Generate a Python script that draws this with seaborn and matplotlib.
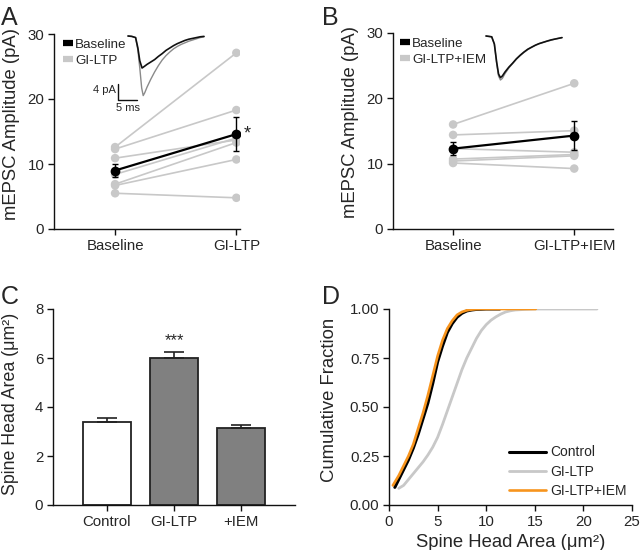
import numpy as np
import pandas as pd
import matplotlib
matplotlib.use("Agg")
import matplotlib.pyplot as plt
from matplotlib.lines import Line2D
import seaborn as sns

sns.set_style("ticks")
plt.rcParams['font.family'] = ['Liberation Sans', 'DejaVu Sans']

# ---------------- data ----------------
# Panel A: paired mEPSC amplitudes (pA)
a_conditions = ["Baseline", "GI-LTP"]
a_baseline = [12.6, 12.3, 10.9, 8.4, 6.9, 6.7, 5.5]
a_giltp = [27.1, 18.3, 13.7, 14.0, 13.3, 10.7, 4.8]
a_mean = [9.0, 14.6]
a_sem = [1.0, 2.6]

# Panel B
b_conditions = ["Baseline", "GI-LTP+IEM"]
b_baseline = [16.0, 14.4, 12.3, 10.7, 10.4, 10.1]
b_iem = [22.3, 15.05, 11.75, 11.4, 11.2, 9.25]
b_mean = [12.3, 14.3]
b_sem = [1.0, 2.2]

# Inset traces (time ms, current pA)
a_trace_t = [0, 1, 2, 2.6, 3.1, 3.7, 4.3, 5, 6, 7, 8, 9, 10, 11, 12, 13, 14, 15, 16, 17, 18, 19, 20]
a_trace_base = [0, -0.1, -0.4, -3, -6.2, -8.0, -7.6, -7.1, -6.5, -5.9, -5.1, -4.4, -3.6, -3.0, -2.4,
                -1.9, -1.5, -1.1, -0.8, -0.6, -0.4, -0.2, -0.1]
a_trace_t2 = [0, 1, 2, 2.6, 3.1, 3.6, 4.0, 4.4, 5, 6, 7, 8, 9, 10, 11, 12, 13, 14, 15, 16, 17, 18, 19, 20]
a_trace_ltp = [0, -0.1, -0.4, -3.5, -8, -13, -14.9, -14.2, -12.8, -10.8, -9.0, -7.4, -6.0, -4.9, -4.0,
               -3.2, -2.6, -2.1, -1.7, -1.3, -1.0, -0.7, -0.4, -0.2]
b_trace_t = [0, 1.5, 2.2, 2.8, 3.3, 3.8, 4.3, 5, 6, 7, 8, 9, 10, 11, 12, 13, 14, 15, 16, 17, 18, 19, 20]
b_trace_base = [0, -0.2, -2, -6.5, -9.5, -10.4, -10.0, -9.0, -7.8, -6.8, -5.7, -4.8, -4.0, -3.3, -2.8,
                -2.3, -1.9, -1.6, -1.3, -1.0, -0.8, -0.6, -0.4]
b_trace_iem = [0, -0.2, -2, -6.8, -10, -11.0, -10.6, -9.4, -8.0, -6.9, -5.8, -4.9, -4.1, -3.4, -2.8,
               -2.3, -1.9, -1.6, -1.3, -1.1, -0.8, -0.6, -0.4]

# Panel C: spine head area
c_groups = ["Control", "GI-LTP", "+IEM"]
c_means = [3.37, 5.98, 3.13]
c_sems = [0.18, 0.27, 0.15]

# Panel D: cumulative fractions
d_ctrl_x = [0.6, 1.0, 1.5, 2.0, 2.5, 3.0, 3.5, 4.0, 4.5, 5.0, 5.5, 6.0, 6.5, 7.0, 7.5, 8.0, 8.5, 9.0,
            9.5, 10.0, 11.4]
d_ctrl_y = [0.09, 0.13, 0.18, 0.23, 0.29, 0.36, 0.44, 0.52, 0.62, 0.73, 0.81, 0.88, 0.925, 0.958, 0.978,
            0.99, 0.995, 0.998, 0.999, 1.0, 1.0]
d_ltp_x = [1.0, 1.5, 2.0, 2.5, 3.0, 3.5, 4.0, 4.5, 5.0, 5.5, 6.0, 6.5, 7.0, 7.5, 8.0, 8.5, 9.0, 9.5,
           10.0, 10.5, 11.0, 11.5, 12.0, 12.5, 13.0, 14.0, 15.0, 21.4]
d_ltp_y = [0.085, 0.10, 0.13, 0.16, 0.19, 0.22, 0.255, 0.295, 0.345, 0.41, 0.48, 0.55, 0.62, 0.69, 0.75,
           0.80, 0.85, 0.89, 0.92, 0.943, 0.96, 0.974, 0.985, 0.991, 0.995, 0.998, 1.0, 1.0]
d_iem_x = [0.4, 1.0, 1.5, 2.0, 2.5, 3.0, 3.5, 4.0, 4.5, 5.0, 5.5, 6.0, 6.5, 7.0, 7.5, 8.0, 8.5, 9.0,
           9.5, 15.1]
d_iem_y = [0.10, 0.15, 0.20, 0.25, 0.31, 0.39, 0.47, 0.56, 0.66, 0.76, 0.84, 0.90, 0.94, 0.97, 0.985,
           0.993, 0.997, 0.999, 1.0, 1.0]

GRAY_PT = "#c8c8c8"
ORANGE = "#f7941d"
W, H = 640, 550

fig = plt.figure(figsize=(6.4, 5.5), dpi=100)


def add_ax(l, r, t, b):
    return fig.add_axes([l / W, 1 - b / H, (r - l) / W, (b - t) / H])


TICK_FS = 10.8
LAB_FS = 13.3


def style(ax):
    sns.despine(ax=ax)
    for s in ("left", "bottom"):
        ax.spines[s].set_linewidth(1.0)
        ax.spines[s].set_color("#111111")
    ax.tick_params(direction="out", length=4, width=1, labelsize=TICK_FS, color="#111111", pad=3)


def paired_panel(ax, conds, pre, post, mean, sem, xlim):
    n = len(pre)
    df = pd.DataFrame({
        "subject": list(range(n)) * 2,
        "x": [0] * n + [1] * n,
        "val": list(pre) + list(post),
    })
    sns.lineplot(data=df, x="x", y="val", units="subject", estimator=None, color=GRAY_PT,
                 lw=1.2, ax=ax, legend=False)
    sns.scatterplot(data=df, x="x", y="val", color=GRAY_PT, s=38, edgecolor="none", ax=ax,
                    legend=False, zorder=3)
    mdf = pd.DataFrame({"x": [0, 1], "val": mean})
    sns.lineplot(data=mdf, x="x", y="val", color="black", lw=1.6, ax=ax, legend=False, zorder=4)
    ax.errorbar([0, 1], mean, yerr=sem, fmt="o", color="black", ms=6, capsize=2.5, elinewidth=1,
                capthick=1, zorder=5)
    ax.set_xlim(*xlim)
    ax.set_ylim(0, 30)
    ax.set_xticks([0, 1])
    ax.set_xticklabels(conds)
    ax.set_yticks([0, 10, 20, 30])
    ax.set_xlabel("")
    ax.set_ylabel("mEPSC Amplitude (pA)", fontsize=LAB_FS)
    style(ax)


def small_legend(ax, labels, x0):
    handles = [Line2D([], [], color="black", lw=4.5, solid_capstyle="butt"),
               Line2D([], [], color=GRAY_PT, lw=4.5, solid_capstyle="butt")]
    ax.legend(handles=handles, labels=labels, loc="upper left", bbox_to_anchor=(x0, 0.985),
              frameon=False, fontsize=9.6, handlelength=0.75, handletextpad=0.15, borderpad=0,
              labelspacing=0.3, borderaxespad=0.1)


# ---------- Panel A ----------
axA = add_ax(54, 240, 34, 229)
paired_panel(axA, a_conditions, a_baseline, a_giltp, a_mean, a_sem, (-0.504, 1.03))
axA.yaxis.set_label_coords(-0.185, 0.541)
axA.text(1.06, 14.6, "*", fontsize=13, ha="left", va="center")
small_legend(axA, ["Baseline", "GI-LTP"], (62 - 54) / 186)

# inset A
insA = add_ax(128 - 3.5 * 3.8, 128 + 20.5 * 3.8, 32, 36 + 16.5 * 4)
insA.set_xlim(-3.5, 20.5)
insA.set_ylim(-16.5, 1)
insA.axis("off")
insA.patch.set_alpha(0)
insA.plot(a_trace_t2, a_trace_ltp, color="#8a8a8a", lw=1.0)
insA.plot(a_trace_t, a_trace_base, color="#111111", lw=1.2)
insA.plot([-2.6, -2.6, 2.4], [-12, -16, -16], color="#111111", lw=1.0, clip_on=False)
insA.text(-3.2, -13.4, "4 pA", fontsize=8, ha="right", va="center", clip_on=False)
insA.text(0.1, -16.8, "5 ms", fontsize=8, ha="center", va="top", clip_on=False)

# ---------- Panel B ----------
axB = add_ax(393, 613, 33, 229)
paired_panel(axB, b_conditions, b_baseline, b_iem, b_mean, b_sem, (-0.496, 1.32))
axB.yaxis.set_label_coords(-0.155, 0.547)
small_legend(axB, ["Baseline", "GI-LTP+IEM"], (399 - 393) / 220)

insB = add_ax(486 - 0.5 * 3.8, 486 + 20.5 * 3.8, 32, 36 + 12 * 4)
insB.set_xlim(-0.5, 20.5)
insB.set_ylim(-12, 1)
insB.axis("off")
insB.patch.set_alpha(0)
insB.plot(b_trace_t, b_trace_iem, color="#8a8a8a", lw=1.0)
insB.plot(b_trace_t, b_trace_base, color="#111111", lw=1.2)

# ---------- Panel C ----------
axC = add_ax(53, 295, 309, 505)
cdf = pd.DataFrame({"group": c_groups, "val": c_means})
sns.barplot(data=cdf, x="group", y="val", hue="group", palette=["white", "#808080", "#808080"],
            edgecolor="#222222", linewidth=1.3, width=0.71, ax=axC, legend=False, errorbar=None)
axC.errorbar(range(3), c_means, yerr=[[0, 0, 0], c_sems], fmt="none", ecolor="#222222",
             elinewidth=1.2, capsize=7, capthick=1.2, zorder=5)
axC.text(1, 6.72, "***", ha="center", va="center", fontsize=12)
axC.set_xlim(-0.80, 2.80)
axC.set_ylim(0, 8)
axC.set_yticks([0, 2, 4, 6, 8])
axC.set_xlabel("")
axC.set_ylabel("Spine Head Area (μm²)", fontsize=12.8)
axC.yaxis.set_label_coords(-0.14, 0.517)
style(axC)

# ---------- Panel D ----------
axD = add_ax(389, 632, 309, 505)
sns.lineplot(x=d_ltp_x, y=d_ltp_y, color="#c8c8c8", lw=2.0, ax=axD, label="GI-LTP", sort=False)
sns.lineplot(x=d_ctrl_x, y=d_ctrl_y, color="black", lw=2.2, ax=axD, label="Control", sort=False)
sns.lineplot(x=d_iem_x, y=d_iem_y, color=ORANGE, lw=1.9, ax=axD, label="GI-LTP+IEM", sort=False)
h, l = axD.get_legend_handles_labels()
order = [l.index("Control"), l.index("GI-LTP"), l.index("GI-LTP+IEM")]
axD.legend([h[i] for i in order], [l[i] for i in order], loc="lower right",
           bbox_to_anchor=(1.005, 0.0), frameon=False, fontsize=10, handlelength=2.6,
           handletextpad=0.3, labelspacing=0.38, borderpad=0)
axD.set_xlim(0, 25)
axD.set_ylim(0, 1.0)
axD.set_xticks([0, 5, 10, 15, 20, 25])
axD.set_yticks([0, 0.25, 0.5, 0.75, 1.0])
axD.set_yticklabels(["0.00", "0.25", "0.50", "0.75", "1.00"])
axD.set_xlabel("Spine Head Area (μm²)", fontsize=LAB_FS)
axD.set_ylabel("Cumulative Fraction", fontsize=LAB_FS)
axD.yaxis.set_label_coords(-0.21, 0.537)
style(axD)

# panel letters
for txt, x, y in [("A", 1, 6), ("B", 322, 6), ("C", 1, 285), ("D", 322, 285)]:
    fig.text(x / W, 1 - y / H, txt, fontsize=18, ha="left", va="top")

fig.savefig("out.png", dpi=100)
